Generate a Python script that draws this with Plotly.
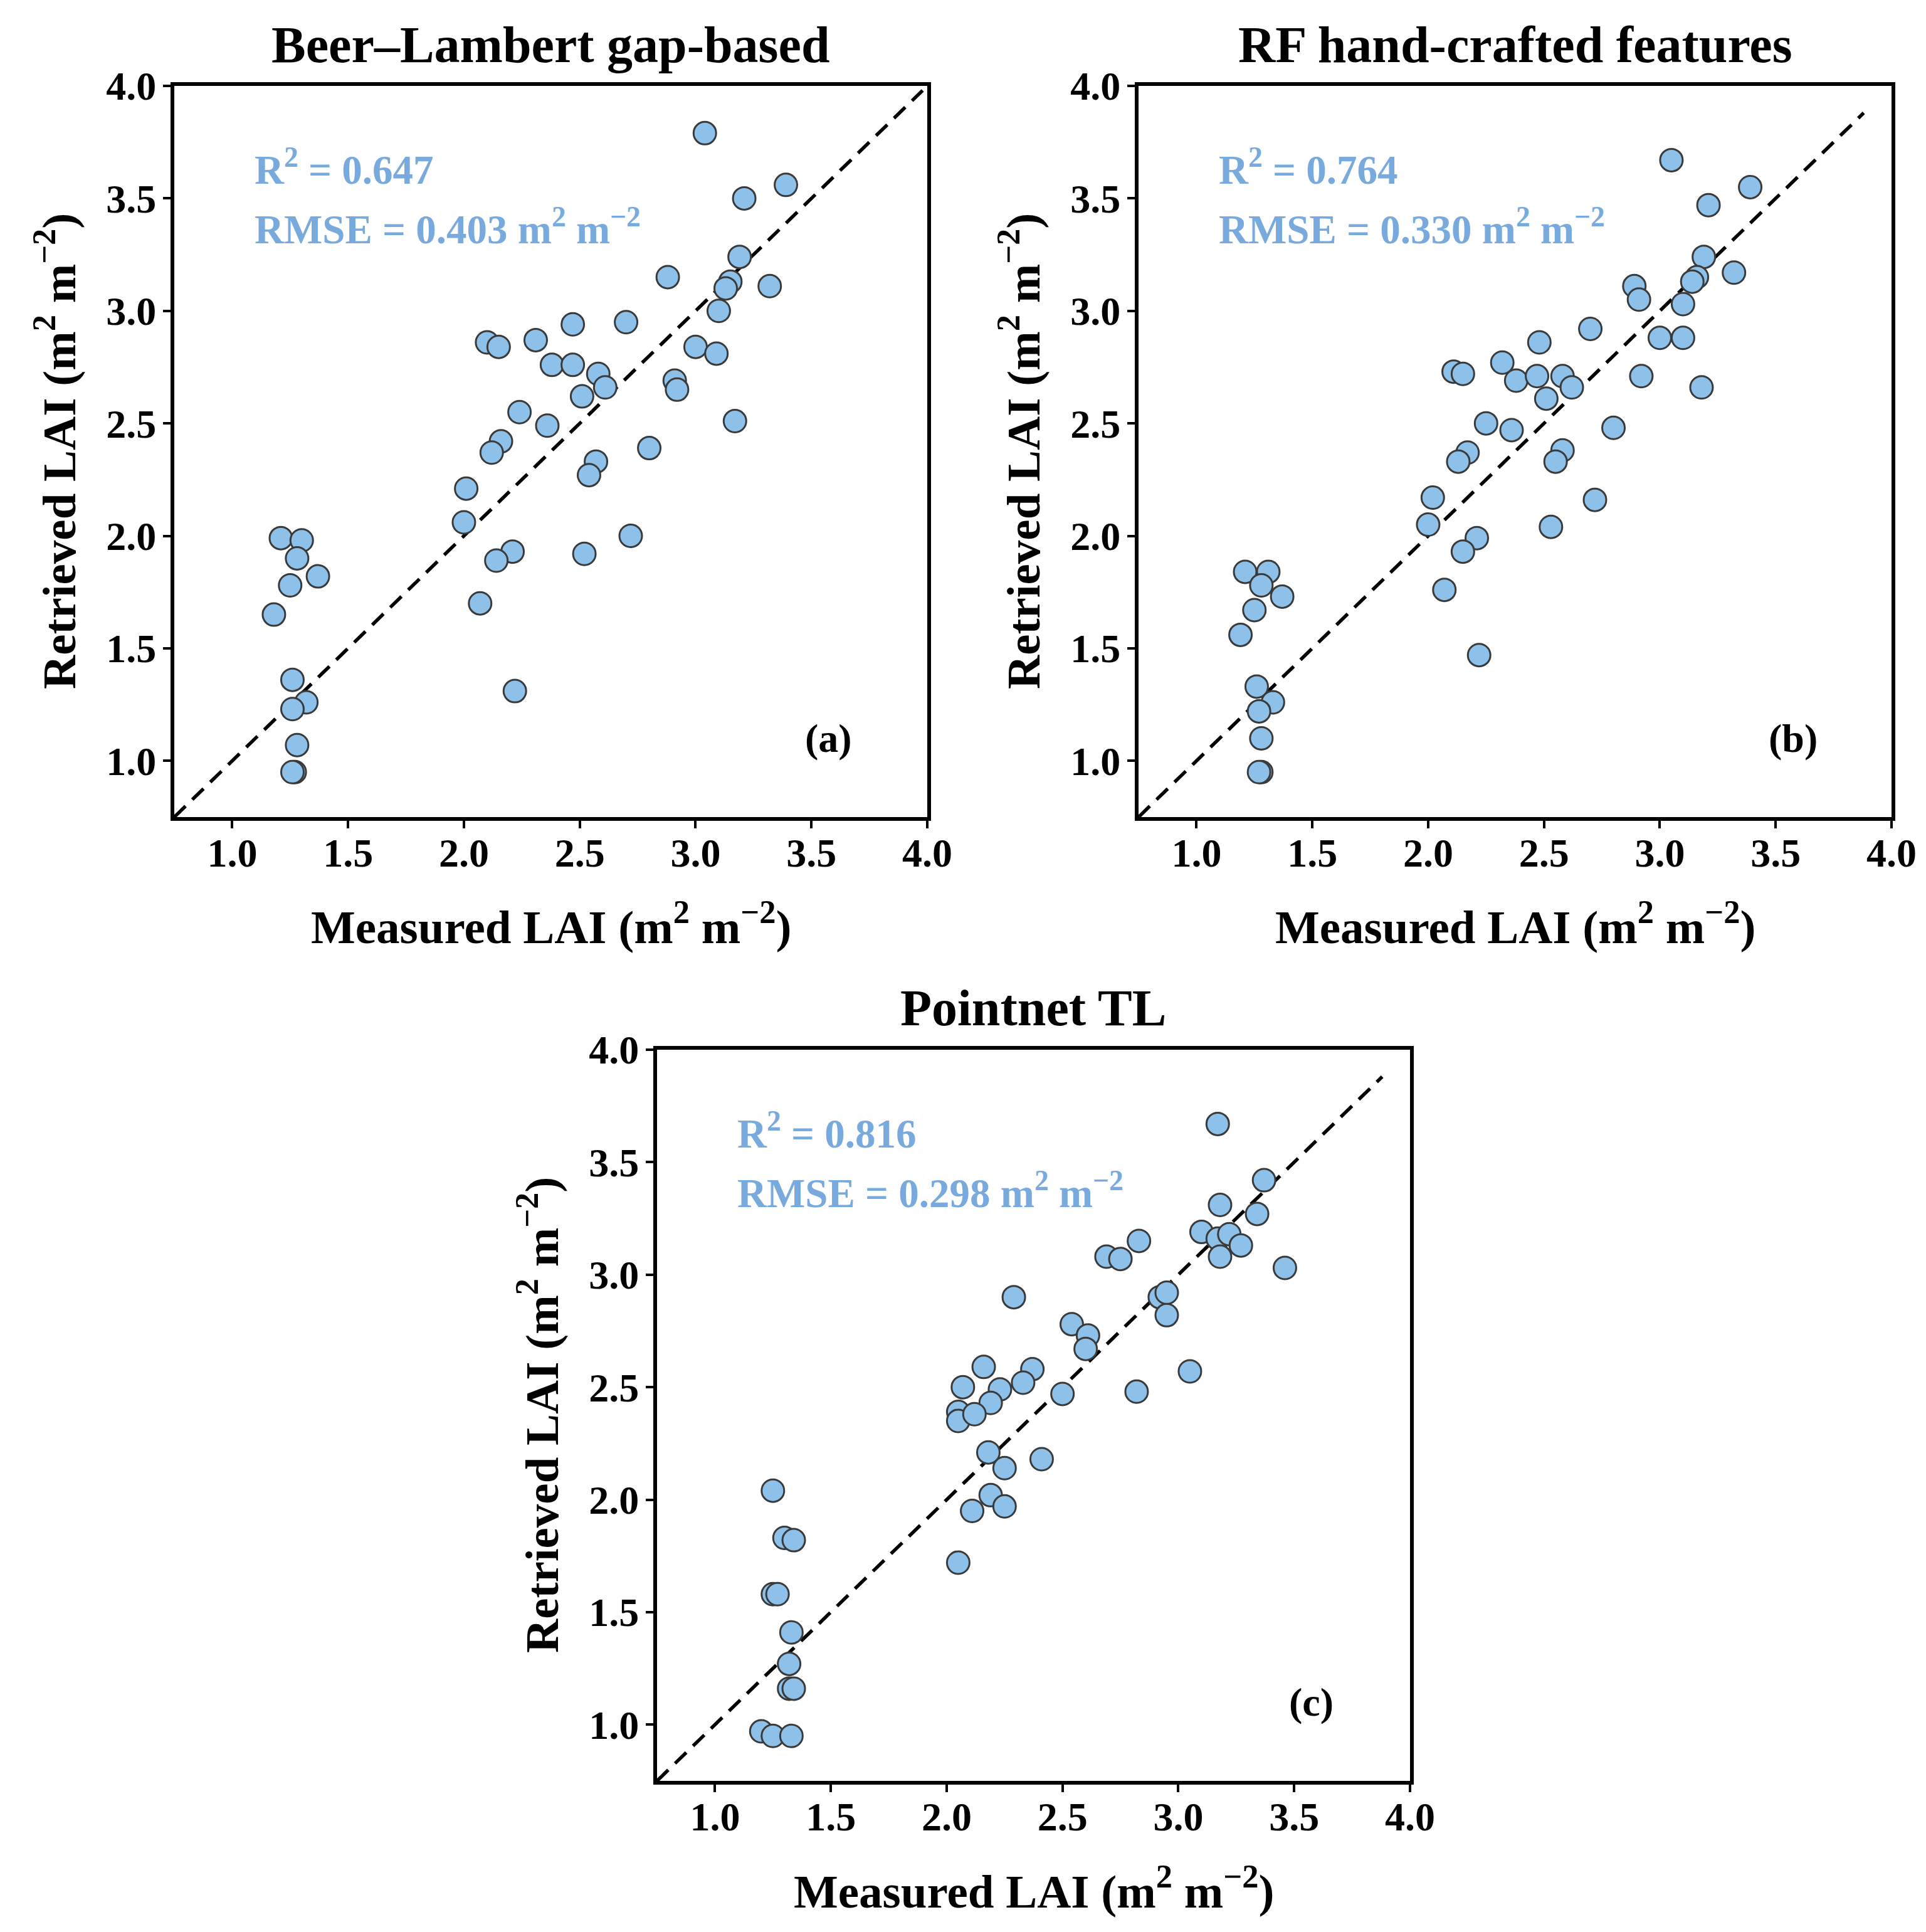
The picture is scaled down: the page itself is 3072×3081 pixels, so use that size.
import plotly.graph_objects as go

# ---------------- data ----------------
panel_titles = ["Beer–Lambert gap-based", "RF hand-crafted features", "Pointnet TL"]
panel_tags = ["(a)", "(b)", "(c)"]
r2_values = ["0.647", "0.764", "0.816"]
rmse_values = ["0.403", "0.330", "0.298"]

measured_a = [3.04, 3.39, 3.21, 3.19, 2.88, 3.15, 3.13, 3.32, 3.10, 2.47, 2.70, 2.10, 2.15, 2.31, 3.00,
              3.09, 2.38, 2.47, 2.58, 2.61, 2.51, 2.91, 2.92, 2.24, 2.36, 3.17, 2.16, 2.12, 2.80, 2.57,
              2.54, 2.01, 2.00, 2.72, 1.21, 1.30, 1.28, 2.21, 2.14, 2.52, 1.37, 1.25, 1.18, 2.07, 1.26,
              1.32, 1.26, 2.22, 1.28, 1.27, 1.26]
retrieved_a = [3.79, 3.56, 3.50, 3.24, 3.15, 3.13, 3.10, 3.11, 3.00, 2.94, 2.95, 2.86, 2.84, 2.87, 2.84,
               2.81, 2.76, 2.76, 2.72, 2.66, 2.62, 2.69, 2.65, 2.55, 2.49, 2.51, 2.42, 2.37, 2.39, 2.33,
               2.27, 2.21, 2.06, 2.00, 1.99, 1.98, 1.90, 1.93, 1.89, 1.92, 1.82, 1.78, 1.65, 1.70, 1.36,
               1.26, 1.23, 1.31, 1.07, 0.95, 0.95]

measured_b = [3.05, 3.39, 3.21, 3.19, 3.32, 2.89, 3.16, 3.14, 2.91, 3.10, 2.70, 2.48, 3.00, 3.10, 2.32,
              2.11, 2.15, 2.38, 2.47, 2.58, 2.62, 2.51, 2.92, 3.18, 2.25, 2.36, 2.80, 2.17, 2.13, 2.58,
              2.55, 2.02, 2.72, 2.00, 2.53, 2.21, 2.15, 1.21, 1.31, 1.28, 1.37, 1.25, 1.19, 2.07, 2.22,
              1.26, 1.33, 1.27, 1.28, 1.28, 1.27]
retrieved_b = [3.67, 3.55, 3.47, 3.24, 3.17, 3.11, 3.15, 3.13, 3.05, 3.03, 2.92, 2.86, 2.88, 2.88, 2.77,
               2.73, 2.72, 2.69, 2.71, 2.71, 2.66, 2.61, 2.71, 2.66, 2.50, 2.47, 2.48, 2.37, 2.33, 2.38,
               2.33, 2.17, 2.16, 2.05, 2.04, 1.99, 1.93, 1.84, 1.84, 1.78, 1.73, 1.67, 1.56, 1.76, 1.47,
               1.33, 1.26, 1.22, 1.10, 0.95, 0.95]

measured_c = [3.17, 3.37, 3.18, 3.34, 3.10, 3.17, 3.22, 3.27, 3.18, 2.83, 2.69, 2.75, 3.46, 2.29, 2.92,
              2.95, 2.95, 2.54, 2.61, 2.60, 2.16, 2.37, 2.33, 3.05, 2.07, 2.23, 2.19, 2.50, 2.82, 2.05,
              2.05, 2.12, 2.18, 2.25, 2.41, 2.19, 2.25, 2.11, 2.05, 1.25, 1.30, 1.34, 1.25, 1.27, 1.33,
              1.32, 1.32, 1.34, 1.20, 1.25, 1.33]
retrieved_c = [3.67, 3.42, 3.31, 3.27, 3.19, 3.16, 3.18, 3.13, 3.08, 3.15, 3.08, 3.07, 3.03, 2.90, 2.90,
               2.92, 2.82, 2.78, 2.73, 2.67, 2.59, 2.58, 2.52, 2.57, 2.50, 2.49, 2.43, 2.47, 2.48, 2.39,
               2.35, 2.38, 2.21, 2.14, 2.18, 2.02, 1.97, 1.95, 1.72, 2.04, 1.83, 1.82, 1.58, 1.58, 1.41,
               1.27, 1.16, 1.16, 0.97, 0.95, 0.95]

one_to_one_ends = [[0.75, 3.98], [0.75, 3.88], [0.75, 3.88]]
tick_values = [1.0, 1.5, 2.0, 2.5, 3.0, 3.5, 4.0]
tick_labels = ["1.0", "1.5", "2.0", "2.5", "3.0", "3.5", "4.0"]
axis_range = [0.75, 4.0]

# ---------------- layout geometry (pixels) ----------------
W, H = 3072, 3081
boxes = [  # left, right, top, bottom
    (278, 1479, 137, 1303),
    (1816, 3017, 137, 1303),
    (1048, 2249, 1674, 2840),
]

FONT = "Liberation Serif, Times New Roman, serif"
TEXT_BLUE = "#79AADD"
MARKER_FILL = "#8EC1EA"
MARKER_EDGE = "#3A3A3A"

fig = go.Figure()
series = [(measured_a, retrieved_a), (measured_b, retrieved_b), (measured_c, retrieved_c)]

annotations = []
for i, ((mx, ry), (l, r, t, b)) in enumerate(zip(series, boxes)):
    n = "" if i == 0 else str(i + 1)
    xa, ya = "x" + n, "y" + n
    ends = one_to_one_ends[i]
    fig.add_trace(go.Scatter(x=ends, y=ends, mode="lines", xaxis=xa, yaxis=ya,
                             line=dict(color="black", width=5.5, dash="25px,15px"),
                             showlegend=False, hoverinfo="skip"))
    fig.add_trace(go.Scatter(x=mx, y=ry, mode="markers", xaxis=xa, yaxis=ya,
                             marker=dict(size=36, color=MARKER_FILL,
                                         line=dict(color=MARKER_EDGE, width=3)),
                             showlegend=False))
    axis_common = dict(range=axis_range, tickvals=tick_values, ticktext=tick_labels,
                       showgrid=False, zeroline=False, showline=True, mirror=True,
                       automargin=False,
                       linecolor="black", linewidth=6, ticks="outside", ticklen=12,
                       tickwidth=4, tickcolor="black",
                       tickfont=dict(family=FONT, size=64, color="black", weight="bold"))
    fig.update_layout(**{
        "xaxis" + n: dict(domain=[l / W, r / W], anchor=ya, ticklabelstandoff=-16, **axis_common),
        "yaxis" + n: dict(domain=[1 - b / H, 1 - t / H], anchor=xa, ticklabelstandoff=-2,
                          **axis_common),
    })
    cx = (l + r) / 2
    cy = (t + b) / 2
    # panel title
    annotations.append(dict(text="<b>%s</b>" % panel_titles[i], x=cx / W, y=1 - (t - 66) / H,
                            xref="paper", yref="paper", showarrow=False, xanchor="center",
                            yanchor="middle", font=dict(family=FONT, size=82, color="black")))
    # x title
    annotations.append(dict(text="<b>Measured LAI (m<sup>2</sup> m<sup>−2</sup>)</b>",
                            x=cx / W, y=1 - (b + 170) / H, xref="paper", yref="paper",
                            showarrow=False, xanchor="center", yanchor="middle",
                            font=dict(family=FONT, size=75, color="black")))
    # y title
    annotations.append(dict(text="<b>Retrieved LAI (m<sup>2</sup> m<sup>−2</sup>)</b>",
                            x=(l - 190) / W, y=1 - cy / H, xref="paper", yref="paper",
                            showarrow=False, xanchor="center", yanchor="middle", textangle=-90,
                            font=dict(family=FONT, size=75, color="black")))
    # stats
    annotations.append(dict(text="<b>R<sup>2</sup> = %s</b>" % r2_values[i], x=1.09, y=3.64,
                            xref=xa, yref=ya, showarrow=False, xanchor="left", yanchor="middle",
                            font=dict(family=FONT, size=65, color=TEXT_BLUE)))
    annotations.append(dict(text="<b>RMSE = %s m<sup>2</sup> m<sup>−2</sup></b>" % rmse_values[i],
                            x=1.09, y=3.375, xref=xa, yref=ya, showarrow=False, xanchor="left",
                            yanchor="middle", font=dict(family=FONT, size=65, color=TEXT_BLUE)))
    annotations.append(dict(text="<b>%s</b>" % panel_tags[i], x=3.575, y=1.10, xref=xa, yref=ya,
                            showarrow=False, xanchor="center", yanchor="middle",
                            font=dict(family=FONT, size=64, color="black")))

fig.update_layout(width=W, height=H, autosize=False, margin=dict(l=0, r=0, t=0, b=0),
                  paper_bgcolor="white", plot_bgcolor="white", annotations=annotations)

fig.write_html("out.html")
